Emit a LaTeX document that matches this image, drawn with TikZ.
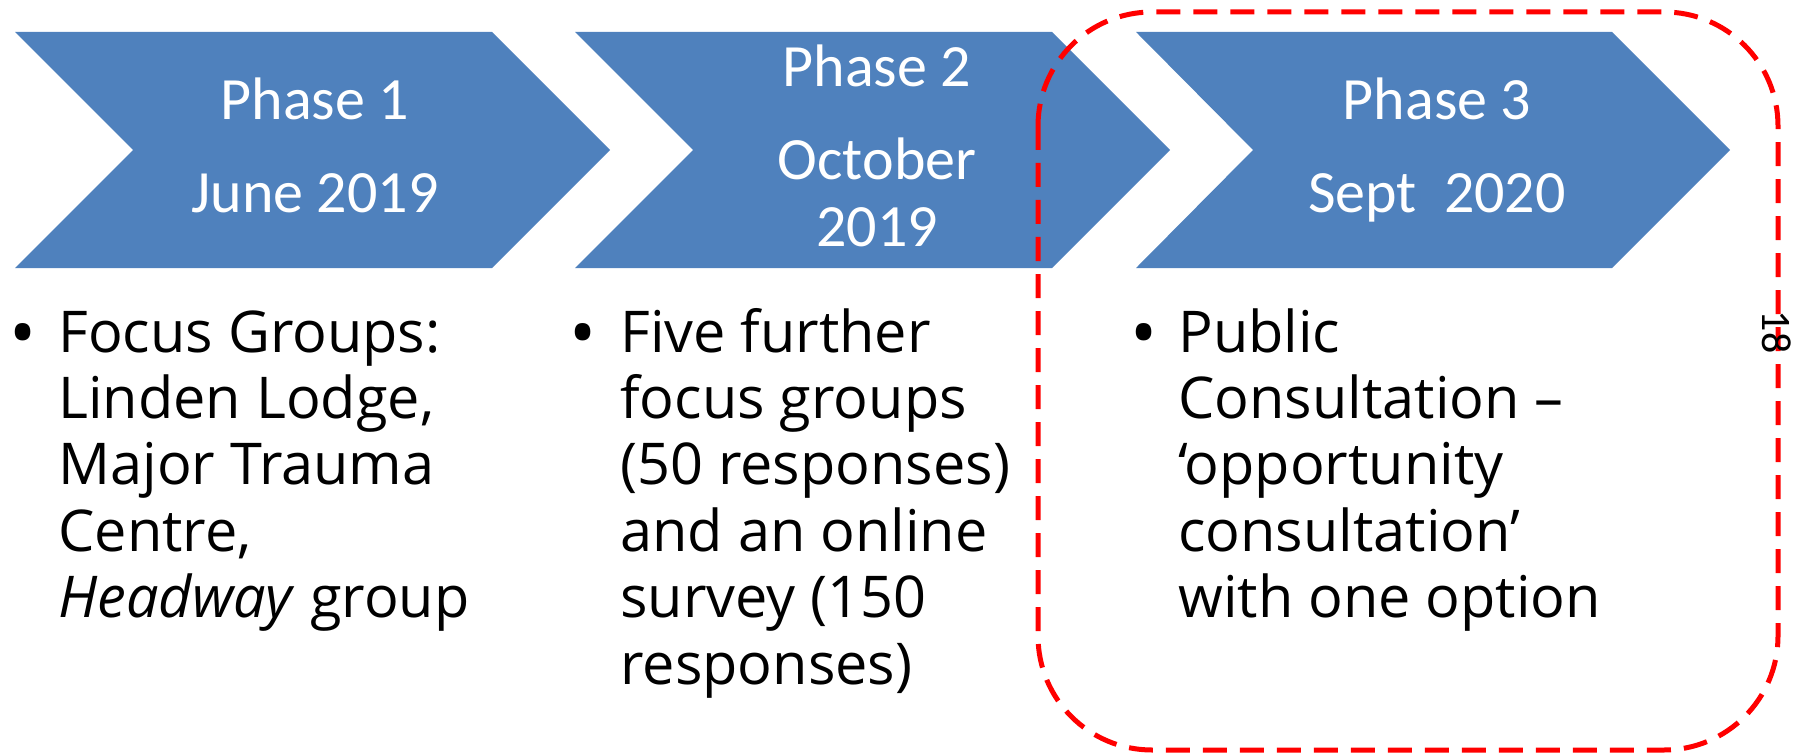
\documentclass[tikz,border=0pt]{standalone}
\usepackage{fontspec}
\setmainfont{Open Sans}
\newfontfamily\chevfont{Carlito}
\definecolor{phaseblue}{HTML}{4F81BD}
\definecolor{boxred}{HTML}{FF0000}
\tikzset{
  chevron/.style={fill=phaseblue},
  phasetext/.style={text=white, font=\chevfont\fontsize{30}{36}\selectfont, anchor=base, inner sep=0pt},
  bullettext/.style={font=\fontsize{28.8}{33.2}\selectfont, anchor=base west, inner sep=0pt},
  bulletdot/.style={font=\fontsize{36}{40}\selectfont, anchor=base, inner sep=0pt},
  focusbox/.style={draw=boxred, line width=2.5pt, dash pattern=on 12pt off 6.5pt, rounded corners=57pt},
  pagenum/.style={font=\chevfont\fontsize{21}{24}\selectfont, rotate=-90, inner sep=0pt}
}
\begin{document}
\begin{tikzpicture}[x=0.5pt, y=-0.5pt]
  \useasboundingbox (0,0) rectangle (1797,754);
  % Phase chevrons
  \fill[chevron] (15,32) -- (492,32) -- (610,150) -- (492,268) -- (15,268) -- (133,150) -- cycle;
  \fill[chevron] (575,32) -- (1052,32) -- (1170,150) -- (1052,268) -- (575,268) -- (693,150) -- cycle;
  \fill[chevron] (1136,32) -- (1612,32) -- (1730,150) -- (1612,268) -- (1136,268) -- (1253,150) -- cycle;
  \node[phasetext] (ph1) at (315,120) {Phase 1};
  \node[phasetext] (ph1date) at (315,213) {June 2019};
  \node[phasetext] (ph2) at (877,87) {Phase 2};
  \node[phasetext] (ph2month) at (877,180) {October};
  \node[phasetext] (ph2year) at (877,247) {2019};
  \node[phasetext] (ph3) at (1437,120) {Phase 3};
  \node[phasetext] (ph3date) at (1437,213) {Sept\ \ 2020};
  % Bullet lists
  \node[bulletdot] (dot1) at (23,358) {•};
  \node[bullettext] (list1) at (58,352) {\vtop{\hbox{Focus Groups:}\hbox{Linden Lodge,}\hbox{Major Trauma}\hbox{Centre,}\hbox{\textit{Headway} group}}};
  \node[bulletdot] (dot2) at (583,358) {•};
  \node[bullettext] (list2) at (620,352) {\vtop{\hbox{Five further}\hbox{focus groups}\hbox{(50 responses)}\hbox{and an online}\hbox{survey (150}\hbox{responses)}}};
  \node[bulletdot] (dot3) at (1144,358) {•};
  \node[bullettext] (list3) at (1178,352) {\vtop{\hbox{Public}\hbox{Consultation –}\hbox{‘opportunity}\hbox{consultation’}\hbox{with one option}}};
  % Highlight round phase 3
  \draw[focusbox] (1038,12) rectangle (1778,750);
  \node[pagenum] (pgno) at (1777,332) {18};
\end{tikzpicture}
\end{document}
